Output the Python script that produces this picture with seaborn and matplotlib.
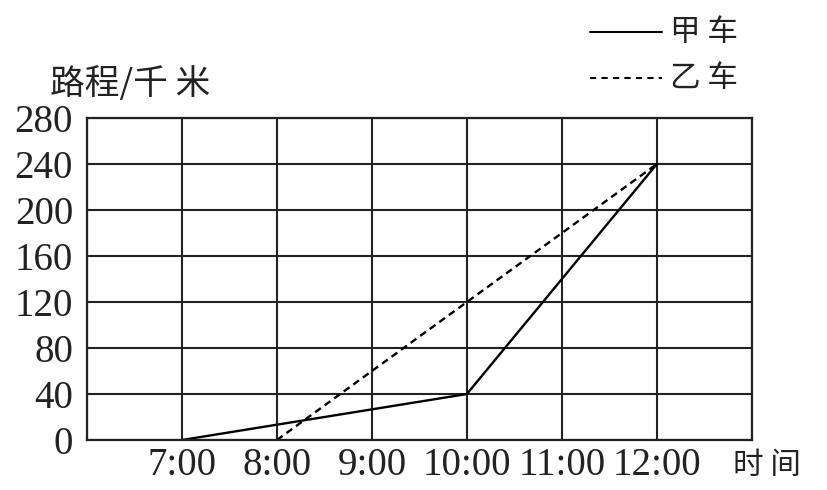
import matplotlib
matplotlib.use('Agg')
import matplotlib.pyplot as plt
import seaborn as sns
import pandas as pd

# data
car_names = ['甲车', '甲车', '甲车', '乙车', '乙车']
hours = [7, 10, 12, 8, 12]
distance = [0, 40, 240, 0, 240]
x_ticks = [6, 7, 8, 9, 10, 11, 12, 13]
x_labels = ['', '7:00', '8:00', '9:00', '10:00', '11:00', '12:00', '']
y_ticks = [0, 40, 80, 120, 160, 200, 240, 280]

df = pd.DataFrame({'车': car_names, '时间': hours, '路程': distance})

sns.set_style('white')
plt.rcParams['font.family'] = ['Liberation Serif', 'Noto Sans CJK SC']

fig = plt.figure(figsize=(8.28, 4.9), dpi=100)
ax = fig.add_axes([0.105, 0.102, 0.803, 0.657])

sns.lineplot(data=df, x='时间', y='路程', style='车', color='black',
             dashes={'甲车': '', '乙车': (3, 2)}, linewidth=1.7, ax=ax,
             legend=False)

ax.set_xlim(6, 13)
ax.set_ylim(0, 280)
ax.set_xticks(x_ticks)
ax.set_xticklabels(x_labels)
ax.set_yticks(y_ticks)
ax.grid(True, color='#222222', linewidth=1.5)
ax.tick_params(length=0, labelsize=28, colors='#222222')
ax.tick_params(axis='y', pad=10)
ax.tick_params(axis='x', pad=5)
for s in ax.spines.values():
    s.set_color('#222222')
    s.set_linewidth(1.6)
ax.set_xlabel('')
ax.set_ylabel('')

cjk = ['Noto Sans CJK SC']
ax.text(-0.055, 1.05, '路程/千 米', transform=ax.transAxes, fontsize=25,
        family=['Noto Sans CJK SC'], ha='left', va='bottom', color='#222222')
ax.text(0.972, -0.03, '时 间', transform=ax.transAxes, fontsize=22,
        family=cjk, ha='left', va='top', color='#222222')

# legend in the top right corner
ax.plot([0.756, 0.865], [1.267, 1.267], transform=ax.transAxes, color='black',
        linewidth=1.5, clip_on=False)
ax.plot([0.756, 0.865], [1.124, 1.124], transform=ax.transAxes, color='black',
        linewidth=1.5, linestyle=(0, (3, 2.5)), clip_on=False)
ax.text(0.877, 1.267, '甲 车', transform=ax.transAxes, fontsize=22,
        family=cjk, ha='left', va='center', color='#222222')
ax.text(0.877, 1.124, '乙 车', transform=ax.transAxes, fontsize=22,
        family=cjk, ha='left', va='center', color='#222222')

fig.savefig('out.png', dpi=100)
